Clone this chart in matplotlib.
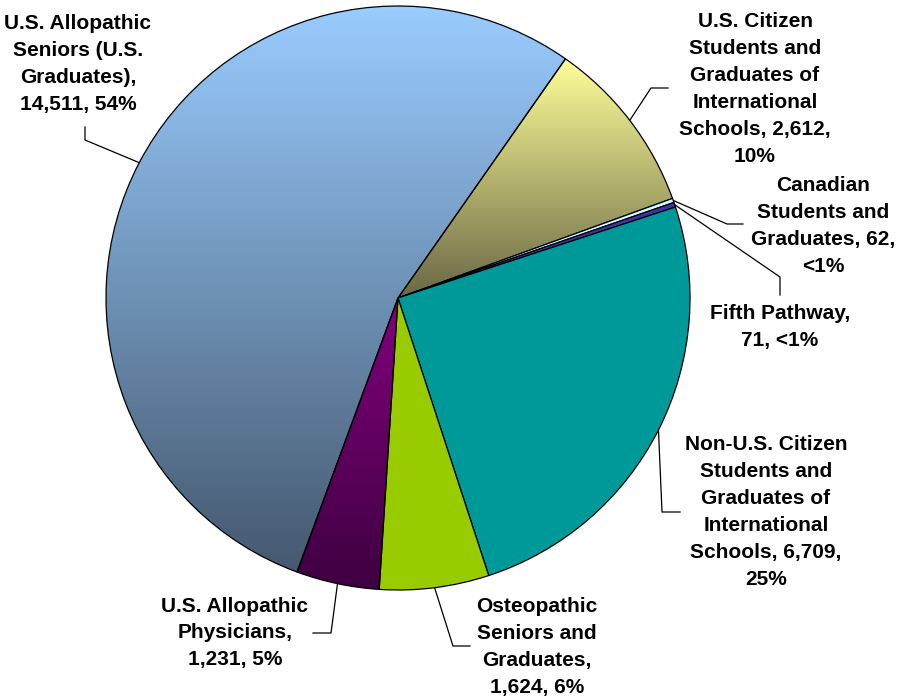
import numpy as np
import matplotlib
matplotlib.use("Agg")
import matplotlib.pyplot as plt
from matplotlib.colors import LinearSegmentedColormap

plt.rcParams['font.family'] = ['Liberation Sans', 'DejaVu Sans']

# data (clockwise from the top-right boundary)
values = [2612, 62, 71, 6709, 1624, 1231, 14511]
label_templates = [
    "U.S. Citizen\nStudents and\nGraduates of\nInternational\nSchools, {v},\n{p}",
    "Canadian\nStudents and\nGraduates, {v},\n{p}",
    "Fifth Pathway,\n{v}, {p}",
    "Non-U.S. Citizen\nStudents and\nGraduates of\nInternational\nSchools, {v},\n{p}",
    "Osteopathic\nSeniors and\nGraduates,\n{v}, {p}",
    "U.S. Allopathic\nPhysicians,\n{v}, {p}",
    "U.S. Allopathic\nSeniors (U.S.\nGraduates),\n{v}, {p}",
]
# (top colour, bottom colour) - same colour means flat fill
fills = [
    ('#FFFF99', '#6A6745'),
    ('#CCFFFF', '#CCFFFF'),
    ('#3F33A8', '#3F33A8'),
    ('#009999', '#009999'),
    ('#99CC00', '#99CC00'),
    ('#82007E', '#3E0040'),
    ('#99CCFF', '#45586E'),
]

W, H = 900, 698
CX, CY, R = 398, 298, 292


def px(x, y):
    # pixel position -> data position (pie radius = 1)
    return (x - CX) / R, (CY - y) / R


# label layout in pixels: text centre, leader elbow, leader end
label_pos = [(755, 89), (823, 226), (780, 327), (766, 512), (537, 647), (235, 633), (78, 64)]
leader_pts = [
    [(651, 88), (668, 88)],
    [(727, 224), (743, 224)],
    [(780, 277), (780, 295)],
    [(662, 512), (680, 512)],
    [(453, 646), (470, 646)],
    [(331, 633), (313, 633)],
    [(85, 140), (85, 127)],
]

total = sum(values)

fig = plt.figure(figsize=(W / 100, H / 100), dpi=100)
ax = fig.add_axes([0, 0, 1, 1])

wedges, _ = ax.pie(values, startangle=55, counterclock=False, radius=1, center=(0, 0),
                   colors=[f[0] for f in fills],
                   wedgeprops=dict(edgecolor='black', linewidth=0.9, zorder=3))

for w, (c_top, c_bot) in zip(wedges, fills):
    if c_top == c_bot:
        continue
    th = np.radians(np.linspace(w.theta1, w.theta2, 200))
    xs = np.concatenate([[0], np.cos(th)])
    ys = np.concatenate([[0], np.sin(th)])
    cmap = LinearSegmentedColormap.from_list('g', [c_bot, c_top])
    grad = np.linspace(0, 1, 256).reshape(-1, 1)
    im = ax.imshow(grad, cmap=cmap, origin='lower', aspect='auto',
                   extent=[xs.min(), xs.max(), ys.min(), ys.max()], zorder=2)
    im.set_clip_path(w)
    w.set_facecolor('none')

for w, v, tpl, (lx, ly), pts in zip(wedges, values, label_templates, label_pos, leader_pts):
    frac = v / total * 100
    p = "<1%" if frac < 1 else f"{round(frac)}%"
    ax.text(*px(lx, ly), tpl.format(v=f"{v:,}", p=p), ha='center', va='center',
            multialignment='center', fontsize=15, fontweight='bold', linespacing=1.53)
    mid = np.radians((w.theta1 + w.theta2) / 2)
    lxs = [np.cos(mid)] + [px(*q)[0] for q in pts]
    lys = [np.sin(mid)] + [px(*q)[1] for q in pts]
    ax.plot(lxs, lys, color='black', linewidth=0.9)

ax.set_aspect('auto')
ax.set_xlim(-CX / R, (W - CX) / R)
ax.set_ylim(-(H - CY) / R, CY / R)
ax.axis('off')

fig.savefig('out.png', dpi=100)
